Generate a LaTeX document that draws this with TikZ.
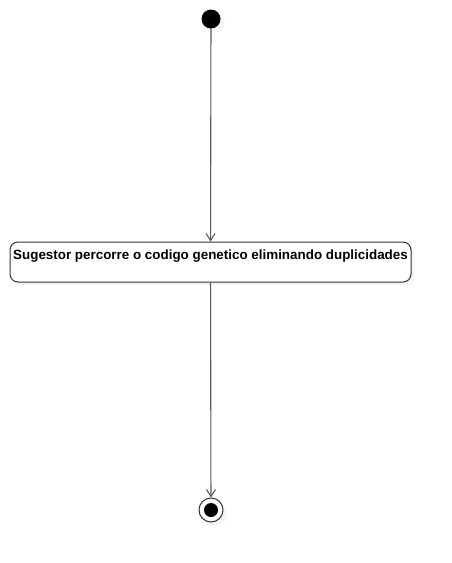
\documentclass[tikz,border=0pt]{standalone}
\usepackage{fontspec}
\setmainfont{Liberation Sans}
\usetikzlibrary{arrows.meta,shadows}

\tikzset{
  initstate/.style={circle,fill=black,inner sep=0pt,minimum size=19pt,
    drop shadow={shadow xshift=4pt,shadow yshift=-4pt,fill=black!8}},
  actstate/.style={draw=black!80,line width=1pt,rounded corners=8pt,fill=white,inner sep=0pt,
    minimum width=401pt,text height=17pt,text depth=23pt,align=center,
    font=\bfseries\fontsize{13.4}{15}\selectfont,
    drop shadow={shadow xshift=3pt,shadow yshift=-3pt,fill=black!8}},
  finalstate/.style={circle,draw=black!80,line width=1pt,fill=white,inner sep=0pt,minimum size=24pt,
    drop shadow={shadow xshift=4pt,shadow yshift=-4pt,fill=black!8}},
  finaldot/.style={circle,fill=black,inner sep=0pt,minimum size=14pt},
  flow/.style={draw=black!65,line width=1.1pt,-{Straight Barb[length=7pt,width=9pt]}}
}

\begin{document}
\begin{tikzpicture}[x=1pt,y=-1pt]
    \useasboundingbox (0,0) rectangle (452,563);

    \node[initstate] (START) at (211,19) {};
    \node[actstate] (SUG) at (210.5,262) {Sugestor percorre o codigo genetico eliminando duplicidades};
    \node[finalstate] (END) at (211,510) {};
    \node[finaldot] (ENDDOT) at (END.center) {};

    \draw [flow] (START) -- (SUG);
    \draw [flow] (SUG) -- (END);
\end{tikzpicture}
\end{document}
